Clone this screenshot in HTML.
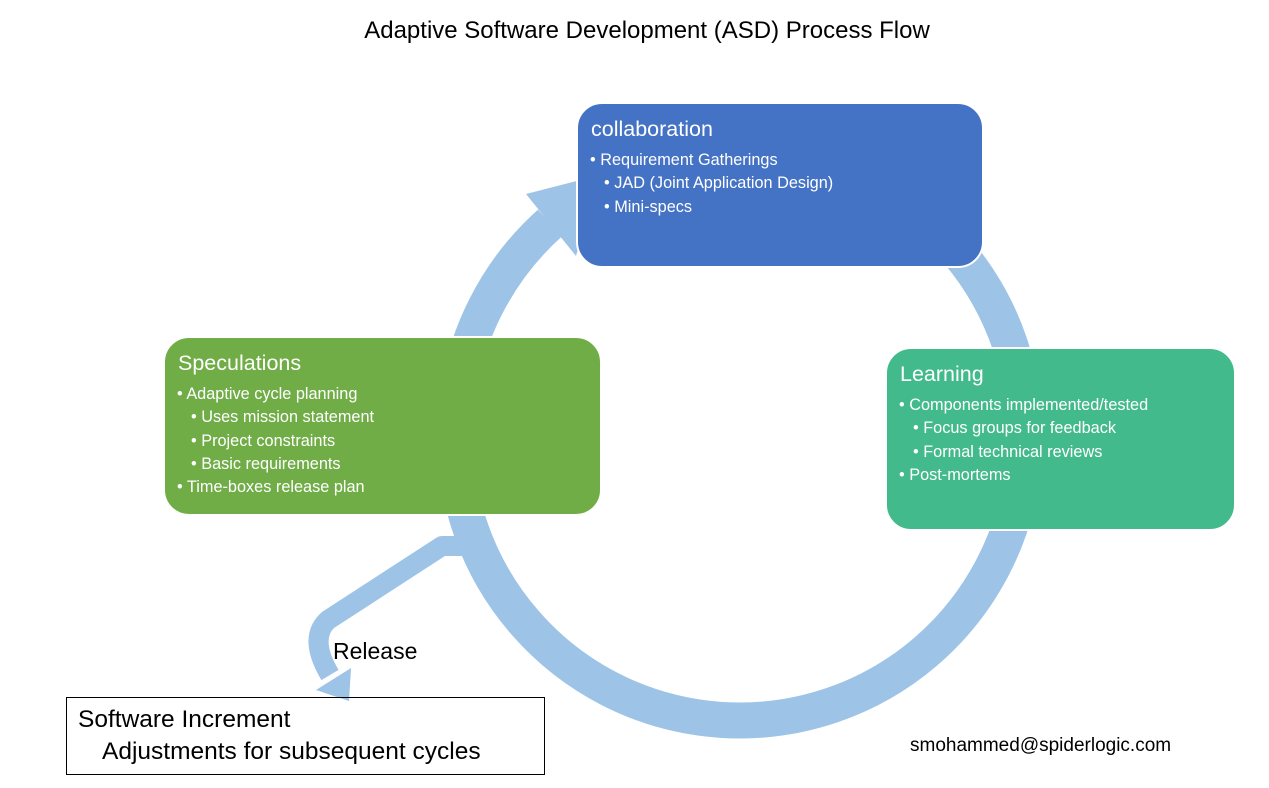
<!DOCTYPE html>
<html><head><style>
body{margin:0;width:1269px;height:788px;background:#fff;position:relative;overflow:hidden;font-family:"Liberation Sans",sans-serif}
.t{position:absolute;white-space:nowrap}
.box{position:absolute;border-radius:26px;color:#fff;border:2px solid #fff;box-sizing:border-box}
.box h{display:block;font-size:21.5px;margin:13px 0 7px 13px}
.box div{font-size:16.3px;line-height:23.3px}
.l1{padding-left:12px}.l2{padding-left:26px}
</style></head><body>
<div class="t" style="left:0;width:1294px;text-align:center;top:17px;font-size:24px;color:#000">Adaptive Software Development (ASD) Process Flow</div>
<svg width="1269" height="788" style="position:absolute;left:0;top:0">
<path d="M958,252 A285,285 0 1 1 550,223" fill="none" stroke="#9DC3E6" stroke-width="36"/>
<polygon points="526,194 576,256 600,175" fill="#9DC3E6"/>
<path d="M466,546 L442,546 L328,620 Q308,638 330,675" fill="none" stroke="#9DC3E6" stroke-width="20" stroke-linejoin="round"/>
<polygon points="316,690 349,701 351,668" fill="#9DC3E6"/>
</svg>
<div class="box" style="left:576px;top:102px;width:408px;height:166px;background:#4472C4">
<h>collaboration</h>
<div class="l1">• Requirement Gatherings</div>
<div class="l2">• JAD (Joint Application Design)</div>
<div class="l2">• Mini-specs</div>
</div>
<div class="box" style="left:885px;top:347px;width:351px;height:184px;background:#43BA8B">
<h>Learning</h>
<div class="l1">• Components implemented/tested</div>
<div class="l2">• Focus groups for feedback</div>
<div class="l2">• Formal technical reviews</div>
<div class="l1">• Post-mortems</div>
</div>
<div class="box" style="left:163px;top:336px;width:439px;height:180px;background:#70AD47">
<h>Speculations</h>
<div class="l1">• Adaptive cycle planning</div>
<div class="l2">• Uses mission statement</div>
<div class="l2">• Project constraints</div>
<div class="l2">• Basic requirements</div>
<div class="l1">• Time-boxes release plan</div>
</div>
<div class="t" style="left:333px;top:638px;font-size:23px">Release</div>
<div style="position:absolute;left:66px;top:697px;width:479px;height:78px;border:1px solid #000;font-size:24.5px;line-height:32px;box-sizing:border-box;padding:6px 0 0 11px;white-space:nowrap">Software Increment<br><span style="padding-left:24px">Adjustments for subsequent cycles</span></div>
<div class="t" style="left:910px;top:735px;font-size:19px">smohammed@spiderlogic.com</div>
</body></html>
